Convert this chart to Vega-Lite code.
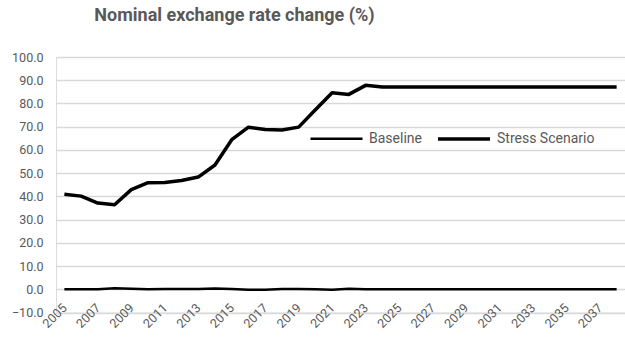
{
  "$schema": "https://vega.github.io/schema/vega-lite/v6.json",
  "width": 569,
  "height": 255.5,
  "autosize": "none",
  "padding": {"left": 56, "top": 57, "right": 0, "bottom": 24.5},
  "background": "white",
  "title": {
    "text": "Nominal exchange rate change (%)",
    "anchor": "middle",
    "dx": -106,
    "offset": 26,
    "font": "Roboto",
    "fontSize": 18,
    "fontWeight": "bold",
    "color": "#595959"
  },
  "data": {
    "values": [
      {"year": 2005, "series": "Baseline", "value": 0.0},
      {"year": 2006, "series": "Baseline", "value": 0.0},
      {"year": 2007, "series": "Baseline", "value": 0.0},
      {"year": 2008, "series": "Baseline", "value": 0.4},
      {"year": 2009, "series": "Baseline", "value": 0.2},
      {"year": 2010, "series": "Baseline", "value": 0.0},
      {"year": 2011, "series": "Baseline", "value": 0.1},
      {"year": 2012, "series": "Baseline", "value": 0.1},
      {"year": 2013, "series": "Baseline", "value": 0.1},
      {"year": 2014, "series": "Baseline", "value": 0.3},
      {"year": 2015, "series": "Baseline", "value": 0.1},
      {"year": 2016, "series": "Baseline", "value": -0.2},
      {"year": 2017, "series": "Baseline", "value": -0.2},
      {"year": 2018, "series": "Baseline", "value": 0.1},
      {"year": 2019, "series": "Baseline", "value": 0.1},
      {"year": 2020, "series": "Baseline", "value": 0.0},
      {"year": 2021, "series": "Baseline", "value": -0.2},
      {"year": 2022, "series": "Baseline", "value": 0.2},
      {"year": 2023, "series": "Baseline", "value": 0.0},
      {"year": 2024, "series": "Baseline", "value": 0.0},
      {"year": 2025, "series": "Baseline", "value": 0.0},
      {"year": 2026, "series": "Baseline", "value": 0.0},
      {"year": 2027, "series": "Baseline", "value": 0.0},
      {"year": 2028, "series": "Baseline", "value": 0.0},
      {"year": 2029, "series": "Baseline", "value": 0.0},
      {"year": 2030, "series": "Baseline", "value": 0.0},
      {"year": 2031, "series": "Baseline", "value": 0.0},
      {"year": 2032, "series": "Baseline", "value": 0.0},
      {"year": 2033, "series": "Baseline", "value": 0.0},
      {"year": 2034, "series": "Baseline", "value": 0.0},
      {"year": 2035, "series": "Baseline", "value": 0.0},
      {"year": 2036, "series": "Baseline", "value": 0.0},
      {"year": 2037, "series": "Baseline", "value": 0.0},
      {"year": 2038, "series": "Baseline", "value": 0.0},
      {"year": 2005, "series": "Stress Scenario", "value": 40.9},
      {"year": 2006, "series": "Stress Scenario", "value": 40.1},
      {"year": 2007, "series": "Stress Scenario", "value": 37.1},
      {"year": 2008, "series": "Stress Scenario", "value": 36.4},
      {"year": 2009, "series": "Stress Scenario", "value": 42.9},
      {"year": 2010, "series": "Stress Scenario", "value": 45.9},
      {"year": 2011, "series": "Stress Scenario", "value": 46.0},
      {"year": 2012, "series": "Stress Scenario", "value": 46.8},
      {"year": 2013, "series": "Stress Scenario", "value": 48.3},
      {"year": 2014, "series": "Stress Scenario", "value": 53.5},
      {"year": 2015, "series": "Stress Scenario", "value": 64.4},
      {"year": 2016, "series": "Stress Scenario", "value": 69.8},
      {"year": 2017, "series": "Stress Scenario", "value": 68.8},
      {"year": 2018, "series": "Stress Scenario", "value": 68.6},
      {"year": 2019, "series": "Stress Scenario", "value": 69.8},
      {"year": 2020, "series": "Stress Scenario", "value": 77.3},
      {"year": 2021, "series": "Stress Scenario", "value": 84.6},
      {"year": 2022, "series": "Stress Scenario", "value": 83.9},
      {"year": 2023, "series": "Stress Scenario", "value": 87.8},
      {"year": 2024, "series": "Stress Scenario", "value": 87.1},
      {"year": 2025, "series": "Stress Scenario", "value": 87.1},
      {"year": 2026, "series": "Stress Scenario", "value": 87.1},
      {"year": 2027, "series": "Stress Scenario", "value": 87.1},
      {"year": 2028, "series": "Stress Scenario", "value": 87.1},
      {"year": 2029, "series": "Stress Scenario", "value": 87.1},
      {"year": 2030, "series": "Stress Scenario", "value": 87.1},
      {"year": 2031, "series": "Stress Scenario", "value": 87.1},
      {"year": 2032, "series": "Stress Scenario", "value": 87.1},
      {"year": 2033, "series": "Stress Scenario", "value": 87.1},
      {"year": 2034, "series": "Stress Scenario", "value": 87.1},
      {"year": 2035, "series": "Stress Scenario", "value": 87.1},
      {"year": 2036, "series": "Stress Scenario", "value": 87.1},
      {"year": 2037, "series": "Stress Scenario", "value": 87.1},
      {"year": 2038, "series": "Stress Scenario", "value": 87.1}
    ]
  },
  "mark": {"type": "line", "strokeCap": "butt", "strokeJoin": "round"},
  "encoding": {
    "x": {
      "field": "year",
      "type": "ordinal",
      "scale": {"padding": 0.5},
      "axis": {
        "values": [2005, 2007, 2009, 2011, 2013, 2015, 2017, 2019, 2021, 2023, 2025, 2027, 2029, 2031, 2033, 2035, 2037],
        "title": null,
        "domain": false,
        "ticks": false,
        "grid": false,
        "labelAngle": -45,
        "labelAlign": "right",
        "labelBaseline": "middle",
        "labelPadding": -7,
        "labelFont": "Roboto",
        "labelFontSize": 12.5,
        "labelColor": "#595959"
      }
    },
    "y": {
      "field": "value",
      "type": "quantitative",
      "scale": {"domain": [-10, 100], "nice": false, "zero": false},
      "axis": {
        "values": [-10, 0, 10, 20, 30, 40, 50, 60, 70, 80, 90, 100],
        "format": ".1f",
        "title": null,
        "domain": false,
        "ticks": false,
        "labelPadding": 13,
        "labelFont": "Roboto",
        "labelFontSize": 12.5,
        "labelColor": "#595959",
        "gridColor": "#d9d9d9",
        "gridWidth": 1.5
      }
    },
    "color": {
      "field": "series",
      "type": "nominal",
      "scale": {"domain": ["Baseline", "Stress Scenario"], "range": ["#000000", "#000000"]},
      "legend": {
        "title": null,
        "orient": "none",
        "direction": "horizontal",
        "legendX": 253,
        "legendY": 54,
        "symbolType": "stroke",
        "symbolSize": 2704,
        "labelFont": "Roboto",
        "labelFontSize": 14,
        "labelColor": "#595959",
        "labelOffset": 5,
        "columnPadding": 9
      }
    },
    "strokeWidth": {
      "field": "series",
      "type": "nominal",
      "scale": {"domain": ["Baseline", "Stress Scenario"], "range": [2.5, 3.5]},
      "legend": {
        "title": null,
        "orient": "none",
        "direction": "horizontal",
        "legendX": 253,
        "legendY": 54,
        "symbolType": "stroke",
        "symbolSize": 2704,
        "labelFont": "Roboto",
        "labelFontSize": 14,
        "labelColor": "#595959",
        "labelOffset": 5,
        "columnPadding": 9
      }
    }
  }
}
